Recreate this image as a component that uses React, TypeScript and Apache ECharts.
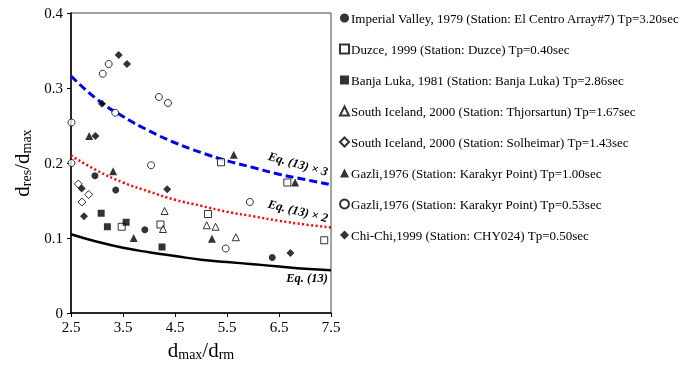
import React, { useEffect, useRef } from "react";
import * as echarts from "echarts";

const FONT = "'Liberation Serif', 'Times New Roman', serif";

// Curves
const curveX = [2.5, 3, 3.5, 4, 4.5, 5, 5.5, 6, 6.5, 7, 7.5];
const eq13Y = [0.105, 0.095, 0.087, 0.081, 0.076, 0.071, 0.068, 0.065, 0.062, 0.059, 0.057];
const eq13x2Y = [0.21, 0.19, 0.174, 0.162, 0.151, 0.143, 0.135, 0.129, 0.123, 0.118, 0.114];
const eq13x3Y = [0.316, 0.285, 0.262, 0.243, 0.227, 0.214, 0.203, 0.194, 0.185, 0.178, 0.171];

// Scatter data [dmax/drm, dres/dmax]
const imperialValley = [[2.96, 0.183], [3.36, 0.164], [3.92, 0.111], [6.37, 0.074]];
const duzce = [[3.475, 0.115], [4.22, 0.118], [5.135, 0.132], [5.385, 0.201], [6.66, 0.174], [7.37, 0.097]];
const banjaLuka = [[3.08, 0.133], [3.2, 0.115], [3.56, 0.121], [4.25, 0.088]];
const thjorsartun = [[4.27, 0.112], [4.3, 0.136], [5.11, 0.117], [5.28, 0.115], [5.67, 0.101]];
const solheimar = [[2.64, 0.172], [2.84, 0.158], [2.71, 0.148]];
const gazli100 = [[2.85, 0.236], [3.31, 0.189], [3.705, 0.1], [5.21, 0.099], [5.63, 0.211], [6.81, 0.174]];
const gazli053 = [[2.51, 0.254], [2.51, 0.2], [3.11, 0.319], [3.225, 0.332], [3.35, 0.267], [4.04, 0.197], [4.19, 0.288], [4.365, 0.28], [5.475, 0.086], [5.94, 0.148]];
const chiChi = [[3.417, 0.344], [3.577, 0.332], [3.096, 0.279], [2.97, 0.236], [2.705, 0.166], [2.75, 0.129], [4.35, 0.165], [6.72, 0.08]];

const seriesNames = [
  "Imperial Valley, 1979 (Station: El Centro Array#7) Tp=3.20sec",
  "Duzce, 1999 (Station: Duzce) Tp=0.40sec",
  "Banja Luka, 1981 (Station: Banja Luka) Tp=2.86sec",
  "South Iceland, 2000 (Station: Thjorsartun) Tp=1.67sec",
  "South Iceland, 2000 (Station: Solheimar) Tp=1.43sec",
  "Gazli,1976 (Station: Karakyr Point) Tp=1.00sec",
  "Gazli,1976 (Station: Karakyr Point) Tp=0.53sec",
  "Chi-Chi,1999 (Station: CHY024) Tp=0.50sec",
];

const xTicks = { min: 2.5, max: 7.5, interval: 1 };
const yTicks = { min: 0, max: 0.4, interval: 0.1 };

export default function App() {
  const ref = useRef<HTMLDivElement>(null);
  useEffect(() => {
    if (!ref.current) return;
    const chart = echarts.init(ref.current, null, { renderer: "svg" });

    const filled = { color: "#000" };
    const open = { color: "#fff", borderColor: "#000", borderWidth: 1 };
    const scatter = (name: string, data: number[][], symbol: string, size: number, style: any) => ({
      type: "scatter",
      name,
      data,
      symbol,
      symbolSize: size,
      itemStyle: style,
      z: 5,
    });
    const line = (name: string, ys: number[], color: string, width: number, type: any) => ({
      type: "line",
      name,
      data: curveX.map((x, i) => [x, ys[i]]),
      showSymbol: false,
      smooth: true,
      lineStyle: { color, width, type, cap: "butt" },
      z: 3,
    });

    const sub = { fontSize: 14, fontFamily: FONT, color: "#000", lineHeight: 8, verticalAlign: "bottom" };
    const main = { fontSize: 21, fontFamily: FONT, color: "#000", lineHeight: 22 };

    chart.setOption({
      animation: false,
      grid: { left: 71, right: 352, top: 13, bottom: 60, show: true, borderColor: "#444", borderWidth: 1 },
      xAxis: {
        type: "value",
        min: xTicks.min,
        max: xTicks.max,
        interval: xTicks.interval,
        name: "{d|d}{s|max}{d|/d}{s|rm}",
        nameLocation: "middle",
        nameGap: 26,
        nameTextStyle: { rich: { d: main, s: sub } },
        axisLine: { lineStyle: { color: "#000", width: 1.5 } },
        axisTick: { show: true, length: 4, lineStyle: { color: "#000" } },
        axisLabel: { fontFamily: FONT, fontSize: 15, color: "#000", margin: 6 },
        splitLine: { show: false },
      },
      yAxis: {
        type: "value",
        min: yTicks.min,
        max: yTicks.max,
        interval: yTicks.interval,
        name: "{d|d}{s|res}{d|/d}{s|max}",
        nameLocation: "middle",
        nameGap: 38,
        nameTextStyle: { rich: { d: main, s: sub } },
        axisLine: { show: true, lineStyle: { color: "#000", width: 1.5 } },
        axisTick: { show: true, length: 4, lineStyle: { color: "#000" } },
        axisLabel: { fontFamily: FONT, fontSize: 15, color: "#000", margin: 8 },
        splitLine: { show: false },
      },
      legend: {
        orient: "vertical",
        left: 334,
        top: 6,
        itemGap: 17,
        itemWidth: 9,
        itemHeight: 9,
        data: seriesNames,
        textStyle: { fontFamily: FONT, fontSize: 13, color: "#000", lineHeight: 14, padding: [0, 0, 0, -3] },
      },
      graphic: [
        { type: "text", x: 298, y: 164, rotation: -0.27, style: { text: "Eq. (13) × 3", font: `italic bold 12.5px ${FONT}`, fill: "#000", align: "center", verticalAlign: "middle" } },
        { type: "text", x: 298, y: 211, rotation: -0.24, style: { text: "Eq. (13) × 2", font: `italic bold 12.5px ${FONT}`, fill: "#000", align: "center", verticalAlign: "middle" } },
        { type: "text", x: 307, y: 278, style: { text: "Eq. (13)", font: `italic bold 12.5px ${FONT}`, fill: "#000", align: "center", verticalAlign: "middle" } },
      ],
      series: [
        line("Eq. (13)", eq13Y, "#000", 2.5, "solid"),
        line("Eq. (13) x 2", eq13x2Y, "#ff0000", 2.5, [2, 2.5]),
        line("Eq. (13) x 3", eq13x3Y, "#0000ee", 3, [8, 4]),
        scatter(seriesNames[0], imperialValley, "circle", 7, filled),
        scatter(seriesNames[1], duzce, "rect", 7, open),
        scatter(seriesNames[2], banjaLuka, "rect", 7, filled),
        scatter(seriesNames[3], thjorsartun, "triangle", 7, open),
        scatter(seriesNames[4], solheimar, "diamond", 8, open),
        scatter(seriesNames[5], gazli100, "triangle", 8, filled),
        scatter(seriesNames[6], gazli053, "circle", 7, open),
        scatter(seriesNames[7], chiChi, "diamond", 8, filled),
      ],
    });
    return () => chart.dispose();
  }, []);
  return <div ref={ref} style={{ position: "fixed", left: 0, top: 0, width: 683, height: 373 }} />;
}
